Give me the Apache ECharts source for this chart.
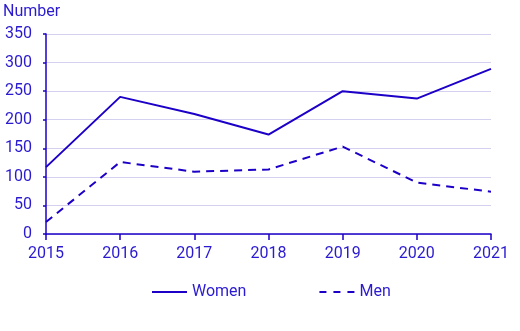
<!DOCTYPE html>
<html><head><meta charset="utf-8">
<script src="https://cdn.jsdelivr.net/npm/echarts@6/dist/echarts.min.js"></script>
<style>html,body{margin:0;padding:0;background:#fff}#c{width:520px;height:331px}</style>
</head><body><div id="c"></div>
<script>
const years = ['2015','2016','2017','2018','2019','2020','2021'];
const women = [117, 240, 210, 174, 250, 237, 289];
const men = [21, 126, 109, 113, 153, 90, 74];
const yTicks = [0, 50, 100, 150, 200, 250, 300, 350];
const C = '#1c00c8';
const T = '#2a1ad0';
const F = 'Roboto';
const chart = echarts.init(document.getElementById('c'));
chart.setOption({
  animation: false,
  textStyle: {fontFamily: F},
  grid: {left: 43, right: 29, top: 34, bottom: 97, containLabel: false},
  legend: {
    bottom: 26, left: 147, itemWidth: 35, itemHeight: 2, itemGap: 73,
    textStyle: {color: T, fontSize: 16, fontFamily: F},
    data: [
      {name: 'Women', icon: 'path://M0,0L35,0L35,2L0,2Z'},
      {name: 'Men', icon: 'path://M0,0L7,0L7,2L0,2ZM14,0L21,0L21,2L14,2ZM28,0L35,0L35,2L28,2Z'}
    ]
  },
  xAxis: {
    type: 'category', data: years, boundaryGap: false,
    axisLine: {lineStyle: {color: C, width: 1.5}},
    axisTick: {show: true, length: 6, lineStyle: {color: C, width: 1.5}},
    axisLabel: {color: T, fontSize: 16, fontFamily: F, margin: 12}
  },
  yAxis: {
    type: 'value', min: yTicks[0], max: yTicks[yTicks.length-1], interval: 50,
    name: 'Number', nameLocation: 'end', nameGap: 14,
    nameTextStyle: {color: T, fontSize: 16, fontFamily: F, align: 'left', padding: [0,0,0,-43]},
    axisLine: {show: true, lineStyle: {color: C, width: 1.5}},
    axisTick: {show: true, length: 3, lineStyle: {color: C, width: 1.5}},
    axisLabel: {color: T, fontSize: 16, fontFamily: F, margin: 14},
    splitLine: {lineStyle: {color: '#d4d0f0', width: 1}}
  },
  series: [
    {name: 'Women', type: 'line', data: women, symbol: 'none',
     lineStyle: {color: C, width: 2}, itemStyle: {color: C}},
    {name: 'Men', type: 'line', data: men, symbol: 'none',
     lineStyle: {color: C, width: 2, type: [8, 6]}, itemStyle: {color: C}}
  ]
});
</script></body></html>
